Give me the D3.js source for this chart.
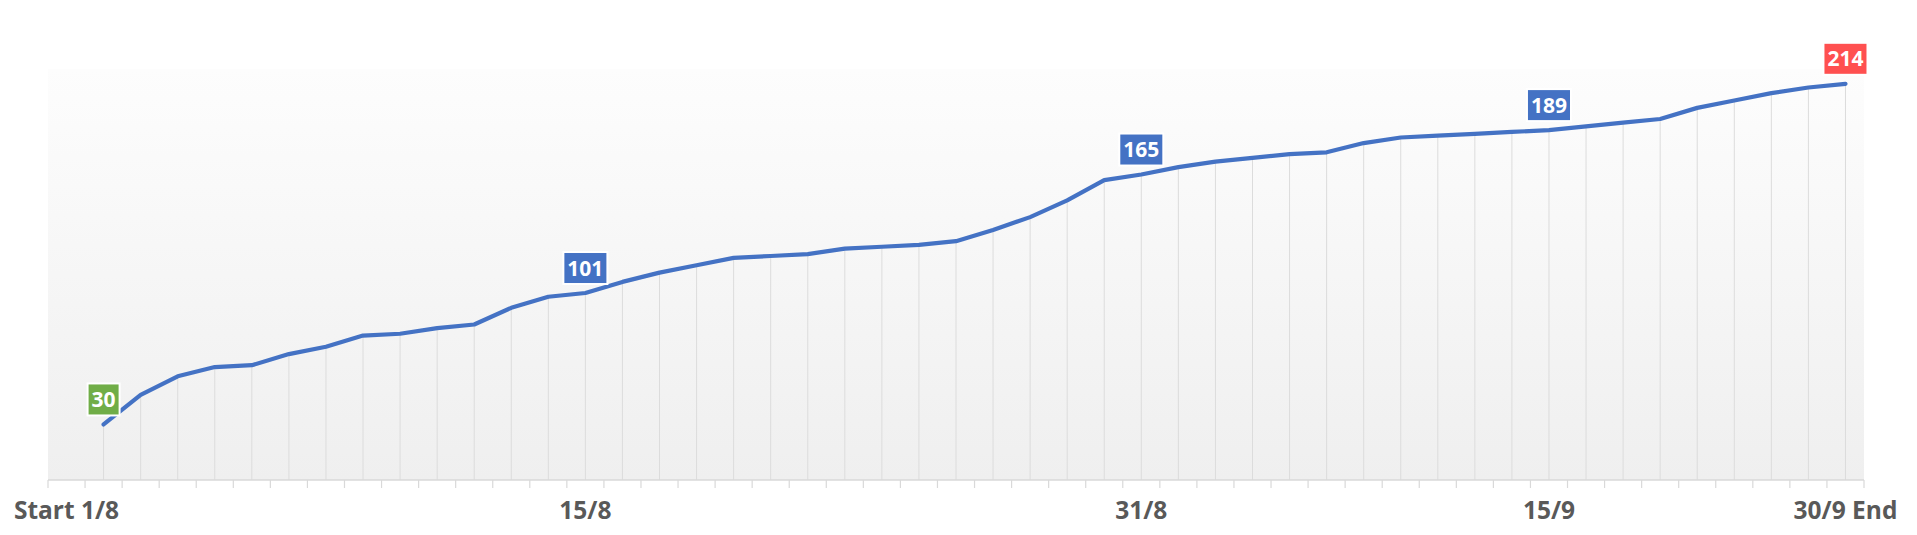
<!DOCTYPE html>
<html>
<head>
<meta charset="utf-8">
<script src="https://cdn.jsdelivr.net/npm/d3@7"></script>
<style>
  html, body { margin: 0; padding: 0; background: #ffffff; }
  svg { display: block; }
</style>
</head>
<body>
<svg id="chart" width="1917" height="535"></svg>
<script>
// ---- data ----
const categories = ["Start 1/8", "", "", "", "", "", "", "", "", "", "", "", "", "", "15/8",
  "", "", "", "", "", "", "", "", "", "", "", "", "", "", "31/8",
  "", "", "", "", "", "", "", "", "", "", "15/9",
  "", "", "", "", "", "", "", "30/9 End"];
const values = [null, 30, 46, 56, 61, 62, 68, 72, 78, 79, 82, 84, 93, 99, 101, 107, 112, 116, 120, 121, 122,
  125, 126, 127, 129, 135, 142, 151, 162, 165, 169, 172, 174, 176, 177, 182, 185, 186, 187, 188, 189,
  191, 193, 195, 201, 205, 209, 212, 214];
const labelIndices = [1, 14, 29, 40, 48];
const labelColors = ["#70AD47", "#4472C4", "#4472C4", "#4472C4", "#FF5050"];
const yMax = 222;

// ---- layout ----
const svg = d3.select("#chart");
const mLeft = 48, mRight = 1864, mTop = 69, mBottom = 480;

const x = d3.scaleBand().domain(d3.range(categories.length)).range([mLeft, mRight]).padding(0);
const y = d3.scaleLinear().domain([0, yMax]).range([mBottom, mTop]);
const cx = i => x(i) + x.bandwidth() / 2;

// background gradient
const defs = svg.append("defs");
const grad = defs.append("linearGradient").attr("id", "bg").attr("x1", 0).attr("y1", 0).attr("x2", 0).attr("y2", 1);
grad.append("stop").attr("offset", "0%").attr("stop-color", "#fdfdfd");
grad.append("stop").attr("offset", "100%").attr("stop-color", "#efefef");
svg.append("rect").attr("x", mLeft).attr("y", mTop).attr("width", mRight - mLeft).attr("height", mBottom - mTop)
  .attr("fill", "url(#bg)");

const pts = values.map((v, i) => ({ i, v })).filter(d => d.v != null);

// drop lines
svg.append("g").selectAll("line").data(pts).join("line")
  .attr("x1", d => cx(d.i)).attr("x2", d => cx(d.i))
  .attr("y1", d => y(d.v)).attr("y2", y(0))
  .attr("stroke", "#dcdcdc").attr("stroke-width", 1);

// axis line and boundary ticks
const bounds = d3.range(categories.length + 1).map(i => mLeft + i * x.bandwidth());
svg.append("line").attr("x1", mLeft).attr("x2", mRight).attr("y1", y(0)).attr("y2", y(0))
  .attr("stroke", "#d9d9d9").attr("stroke-width", 1.5);
svg.append("g").selectAll("line").data(bounds).join("line")
  .attr("x1", d => d).attr("x2", d => d).attr("y1", y(0)).attr("y2", y(0) + 8)
  .attr("stroke", "#d9d9d9").attr("stroke-width", 1.2);

// category labels
const axis = d3.axisBottom(x).tickSize(0).tickPadding(0).tickFormat(i => categories[i]);
const gAxis = svg.append("g").attr("transform", `translate(0,${y(0)})`).call(axis);
gAxis.select(".domain").remove();
gAxis.selectAll("text")
  .attr("y", 39).attr("dy", 0)
  .attr("fill", "#595959")
  .style("font-family", "'Open Sans', sans-serif")
  .style("font-weight", "700")
  .style("font-size", "24.5px");

// line
const line = d3.line().x(d => cx(d.i)).y(d => y(d.v));
svg.append("path").datum(pts).attr("d", line)
  .attr("fill", "none").attr("stroke", "#4472C4").attr("stroke-width", 4.2)
  .attr("stroke-linejoin", "round").attr("stroke-linecap", "round");

// data labels
const gl = svg.append("g");
labelIndices.forEach((idx, k) => {
  const g = gl.append("g");
  const t = g.append("text").text(values[idx])
    .attr("x", cx(idx)).attr("text-anchor", "middle")
    .attr("fill", "#ffffff")
    .style("font-family", "'Open Sans', sans-serif")
    .style("font-weight", "700")
    .style("font-size", "21px");
  const w = t.node().getBBox().width + 8;
  const h = 32;
  const by = y(values[idx]) - 9 - h;
  g.insert("rect", "text")
    .attr("x", cx(idx) - w / 2).attr("y", by).attr("width", w).attr("height", h)
    .attr("fill", labelColors[k]).attr("stroke", "#ffffff").attr("stroke-width", 2);
  t.attr("y", by + h / 2).attr("dy", "0.36em");
});
</script>
</body>
</html>
